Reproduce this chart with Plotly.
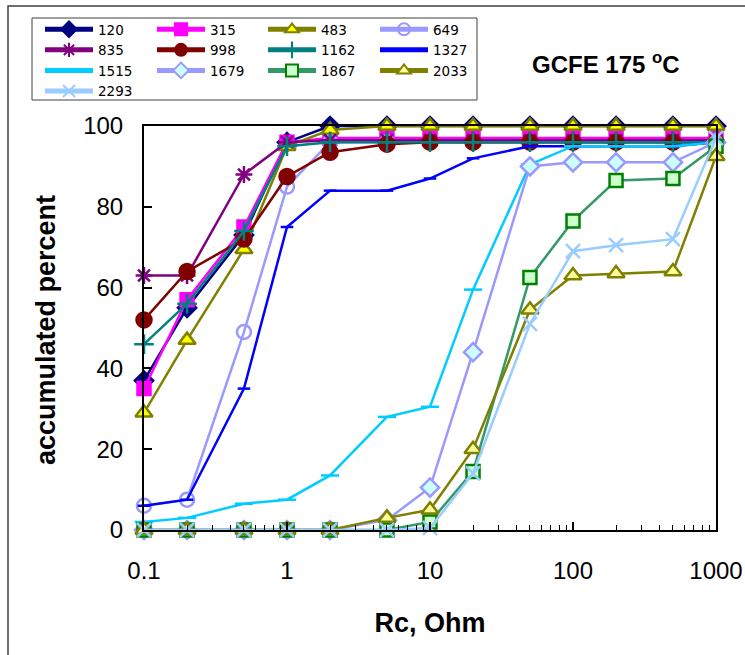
import plotly.graph_objects as go

# ---------------- data ----------------
rc_ohm = [0.1, 0.2, 0.5, 1, 2, 5, 10, 20, 50, 100, 200, 500, 1000]

series_names = ["120", "315", "483", "649", "835", "998", "1162", "1327",
                "1515", "1679", "1867", "2033", "2293"]

s120 = [37, 55, 73, 96, 100, 100, 100, 100, 100, 100, 100, 100, 100]
s315 = [35, 57, 75, 96, 97, 97, 97, 97, 97, 97, 97, 97, 97]
s483 = [29, 47, 69.5, 95, 99, 100, 100, 100, 100, 100, 100, 100, 100]
s649 = [6, 7.5, 49, 85, 96, 96, 96, 96, 96, 96, 96, 96, 96]
s835 = [63, 63, 88, 96, 96.5, 96.5, 96.5, 96.5, 96.5, 96.5, 96.5, 96.5, 96.5]
s998 = [52, 64, 72, 87.5, 93.5, 95.5, 96, 96, 96, 96, 96, 96, 96]
s1162 = [46, 56, 74, 95, 96, 96, 96, 96, 96, 96, 96, 96, 96]
s1327 = [6, 7.5, 35, 75, 84, 84, 87, 92, 95, 95, 95, 95, 96]
s1515 = [2, 3, 6.5, 7.5, 13.5, 28, 30.5, 59.5, 90.5, 95, 95, 95, 96]
s1679 = [0, 0, 0, 0, 0, 2.5, 10.5, 44, 90, 91, 91, 91, 96]
s1867 = [0, 0, 0, 0, 0, 0, 2, 14.5, 62.5, 76.5, 86.5, 87, 95]
s2033 = [0, 0, 0, 0, 0, 3, 5, 20, 54.5, 63, 63.5, 64, 92.5]
s2293 = [0, 0, 0, 0, 0, 0, 0.5, 14, 51, 69, 70.5, 72, 97]

series_values = [s120, s315, s483, s649, s835, s998, s1162, s1327,
                 s1515, s1679, s1867, s2033, s2293]

x_tick_vals = [0.1, 1, 10, 100, 1000]
x_tick_text = ["0.1", "1", "10", "100", "1000"]
y_tick_vals = [0, 20, 40, 60, 80, 100]

# ---------------- styles ----------------
styles = [
    dict(line="#000080", symbol="diamond", fill="#000080", edge="#000080", size=14),
    dict(line="#FF00FF", symbol="square", fill="#FF00FF", edge="#FF00FF", size=13),
    dict(line="#808000", symbol="triangle-up", fill="#FFFF00", edge="#808000", size=15),
    dict(line="#9999FF", symbol="circle", fill="rgba(255,255,255,0)", edge="#9999FF", size=14),
    dict(line="#800080", symbol="asterisk-open", fill="#800080", edge="#800080", size=14),
    dict(line="#800000", symbol="circle", fill="#800000", edge="#800000", size=15),
    dict(line="#008080", symbol="cross-thin-open", fill="#008080", edge="#008080", size=14),
    dict(line="#0000FF", symbol="line-ew-open", fill="#0000FF", edge="#0000FF", size=9),
    dict(line="#00CCFF", symbol="line-ew-open", fill="#00CCFF", edge="#00CCFF", size=13),
    dict(line="#9999FF", symbol="diamond", fill="#CCFFFF", edge="#9999FF", size=14),
    dict(line="#339966", symbol="square", fill="#CCFFCC", edge="#008000", size=13),
    dict(line="#808000", symbol="triangle-up", fill="#FFFF99", edge="#808000", size=15),
    dict(line="#99CCFF", symbol="x-thin-open", fill="#99CCFF", edge="#99CCFF", size=14),
]

legend_ids = ["legend", "legend2", "legend3", "legend4"]

fig = go.Figure()
for i, (name, vals, st) in enumerate(zip(series_names, series_values, styles)):
    fig.add_trace(go.Scatter(
        x=rc_ohm, y=vals, name=name, mode="lines+markers",
        line=dict(color=st["line"], width=2.5),
        marker=dict(symbol=st["symbol"], size=st["size"], color=st["fill"],
                    line=dict(color=st["edge"], width=2.5)),
        cliponaxis=False,
        legend=legend_ids[i % 4],
    ))

W, H = 745, 655
L, R, T, B = 144, 29, 126, 125
pw, ph = W - L - R, H - T - B

def px_x(px):
    return (px - L) / pw

def px_y(py):
    return (H - B - py) / ph

font_family = "Arial, Liberation Sans, sans-serif"

legend_common = dict(
    xref="container", yref="container", xanchor="left", yanchor="top",
    bgcolor="rgba(0,0,0,0)", borderwidth=0, orientation="v",
    font=dict(family="DejaVu Sans, Arial, sans-serif", size=13.5, color="black"),
    tracegroupgap=0, itemwidth=48, itemsizing="constant",
)
col_x = [40, 152, 263, 375]
legend_layout = {}
for k, lid in enumerate(legend_ids):
    legend_layout[lid] = dict(legend_common, x=col_x[k] / W, y=1 - 14 / H)

fig.update_layout(
    width=W, height=H,
    margin=dict(l=L, r=R, t=T, b=B, autoexpand=False),
    paper_bgcolor="white", plot_bgcolor="white",
    font=dict(family=font_family, color="black"),
    showlegend=True,
    **legend_layout,
    xaxis=dict(
        type="log", range=[-1, 3],
        tickvals=x_tick_vals, ticktext=x_tick_text,
        ticks="inside", ticklen=8, tickwidth=1.5, tickcolor="black",
        minor=dict(ticks="inside", ticklen=5, tickwidth=1, tickcolor="black", dtick="D1"),
        showline=True, linecolor="black", linewidth=2, mirror=True,
        showgrid=False, zeroline=False,
        tickfont=dict(family=font_family, size=24, color="black"),
        ticklabelstandoff=18,
        title=dict(text="Rc, Ohm", standoff=30,
                   font=dict(family=font_family, size=27, color="black", weight="bold")),
    ),
    yaxis=dict(
        range=[0, 100], tickvals=y_tick_vals,
        ticks="inside", ticklen=8, tickwidth=1.5, tickcolor="black",
        showline=True, linecolor="black", linewidth=2, mirror=True,
        showgrid=False, zeroline=False,
        tickfont=dict(family=font_family, size=24, color="black"),
        ticklabelstandoff=14,
    ),
    annotations=[
        dict(text="GCFE 175 <sup>o</sup>C", xref="paper", yref="paper",
             x=px_x(606), y=px_y(63), showarrow=False, xanchor="center", yanchor="middle",
             font=dict(family=font_family, size=24, color="black", weight="bold")),
        dict(text="accumulated percent", xref="paper", yref="paper",
             x=px_x(46), y=px_y(330), showarrow=False, xanchor="center", yanchor="middle",
             textangle=-90,
             font=dict(family=font_family, size=27, color="black", weight="bold")),
    ],
    shapes=[
        dict(type="rect", xref="paper", yref="paper",
             x0=px_x(8), x1=px_x(W + 20), y0=px_y(H + 20), y1=px_y(6),
             line=dict(color="#404040", width=1.5), fillcolor="rgba(0,0,0,0)", layer="below"),
        dict(type="rect", xref="paper", yref="paper",
             x0=px_x(32), x1=px_x(477), y0=px_y(100), y1=px_y(18),
             line=dict(color="#404040", width=1), fillcolor="rgba(0,0,0,0)", layer="below"),
    ],
)

fig.write_html("out.html")
